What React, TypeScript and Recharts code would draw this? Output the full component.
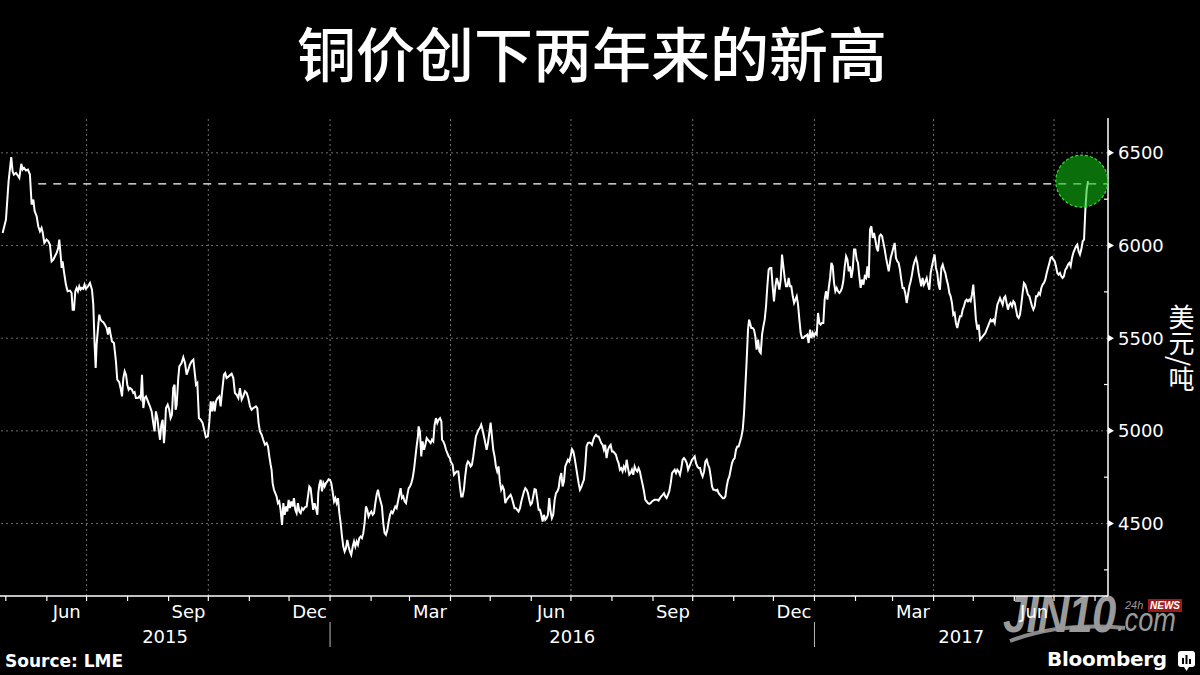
import React from 'react';
import { LineChart, Line, XAxis, YAxis, ReferenceLine, ReferenceDot } from 'recharts';

// Day index = calendar days since 2015-04-27; price in USD/tonne (LME copper)
const daysA = [1.6,4.1,6.1,8.1,9.1,10.1,11.7,13.4,14.2,15.7,16.7,17.7,19.2,20.7,22.2,23.5,24.8,25.8,27.3,28.5,29.8,31.0,31.8,33.1,34.8,36.1,37.3,38.6,39.9,41.1,42.4,43.6,44.4,45.4,46.2,46.9,47.9,49.4,50.7,52.5,53.7,54.5,55.5,56.5,57.5,58.5,59.5,60.5,61.5,62.5,63.5,64.5,66.1,67.6,69.1,70.1,71.1,71.9,72.6,73.9,74.6,75.6,76.6,77.6,78.9,80.2,81.2,82.2,83.2,84.2,85.7,87.2,88.2,89.7,90.7,91.8,92.8,93.8,94.8,95.8,96.8,97.8,99.3,100.3,101.3,102.3,103.8,104.9,105.9,106.9,107.9,108.9,109.9,110.9,111.9,112.9,114.2,115.4,116.4,117.4,118.5,119.5,120.5,121.5,122.5,123.5,124.2,125.0,126.3,127.5,128.5,129.5,130.5,131.5,132.3,133.1,134.3,135.1,136.8,138.1,139.4,140.6,141.9,143.1,144.4,145.7,146.9,147.7,148.7,149.9,151.2,152.7,154.2,155.2,156.7,157.8,158.8,159.8,160.8,161.8,162.8,164.0,165.3,166.3,167.3,168.8,169.8,170.8,172.4];
const pricesA = [6068,6140,6347,6477,6401,6383,6392,6374,6365,6441,6410,6419,6405,6410,6383,6221,6248,6185,6158,6104,6077,6095,6073,6014,6032,6023,6005,5915,5924,5942,5960,5987,6032,5951,5879,5915,5861,5789,5753,5757,5744,5654,5654,5753,5771,5753,5780,5762,5771,5766,5789,5767,5780,5798,5762,5681,5465,5339,5465,5573,5627,5600,5591,5587,5573,5555,5519,5559,5519,5483,5474,5375,5276,5263,5231,5186,5285,5321,5303,5249,5222,5231,5222,5204,5209,5177,5177,5186,5173,5303,5123,5177,5186,5168,5150,5132,5105,5042,4997,5105,5069,5006,4952,5033,5060,4934,4997,5123,5141,5114,5069,5087,5231,5249,5114,5141,5285,5348,5366,5397,5366,5303,5330,5357,5375,5384,5303,5249,5258,5069,5060,5042,4997,4965,4970,5051,5159,5105,5159,5105,5159,5177,5186,5132,5204,5303,5312,5285,5294];

const daysB = [174.6,175.9,177.1,178.4,179.7,180.9,182.2,183.4,184.7,186.0,187.2,188.5,189.7,191.0,193.0,194.0,195.0,196.0,197.3,198.5,199.8,201.1,202.1,203.1,204.1,204.8,205.6,206.6,207.6,208.6,209.6,210.6,211.6,212.7,213.7,214.7,215.7,216.7,217.7,218.7,219.7,220.7,221.7,222.7,223.7,224.7,225.8,226.8,227.8,228.8,230.0,231.3,232.3,233.3,234.3,235.3,236.3,237.3,238.3,239.4,240.1,240.9,241.9,242.9,243.9,244.9,245.9,246.9,247.9,248.9,249.9,250.9,252.0,253.0,254.0,255.0,256.0,257.0,258.0,259.0,260.0,261.0,262.0,263.0,264.0,265.0,266.1,267.1,268.1,269.1,270.1,271.1,272.1,273.1,274.1,275.1,276.1,277.1,278.1,279.2,280.2,281.2,282.2,283.2,284.2,285.2,286.2,287.2,288.2,289.2,290.2,291.2,292.3,293.3,294.3,295.3,296.3,297.3,298.3,299.3,300.3,301.3,302.3,303.3,304.3,305.4,306.4,307.4,308.4,309.4,310.4,311.4,312.4,313.4,314.4,315.4,315.9,316.9,317.9,318.9,320.0,321.0,322.0,323.0,324.0,325.0,326.0,327.0,328.0,329.0,330.0,331.0,332.1,333.1,333.6,334.6,335.6,336.6,337.6,338.6,339.6];
const pricesB = [5308,5285,5204,5195,5177,5231,5168,5186,5213,5204,5177,5132,5114,5123,5132,5123,5042,4997,4979,4952,4925,4934,4916,4862,4817,4790,4718,4682,4664,4646,4610,4619,4574,4493,4610,4547,4592,4565,4628,4583,4619,4592,4637,4574,4556,4610,4565,4556,4583,4574,4588,4592,4646,4700,4691,4628,4574,4610,4583,4547,4664,4709,4736,4673,4718,4700,4718,4727,4739,4736,4718,4673,4619,4637,4610,4637,4556,4502,4430,4376,4349,4367,4412,4376,4349,4331,4376,4403,4376,4403,4385,4421,4430,4421,4448,4502,4592,4574,4538,4556,4565,4547,4556,4610,4655,4682,4646,4619,4592,4502,4448,4439,4466,4511,4547,4565,4556,4574,4592,4583,4619,4655,4691,4637,4646,4619,4610,4655,4691,4700,4718,4745,4790,4853,4916,4970,5024,4997,4862,4943,4898,4925,4961,4952,4943,4934,4952,4943,5033,5069,5042,5060,5069,5051,4952,4943,4925,4898,4880,4862,4853];

const daysC = [340.1,341.6,342.6,343.6,344.6,345.9,347.1,348.1,349.1,350.1,351.1,352.2,353.2,354.2,355.2,356.2,357.2,358.2,359.2,360.2,361.2,362.2,363.2,364.2,365.3,366.3,367.3,368.3,369.3,370.3,371.3,372.3,373.3,374.3,375.3,376.3,377.3,378.3,379.4,380.4,381.4,382.4,383.4,384.4,385.4,386.4,387.4,388.4,389.4,390.4,391.4,392.5,393.5,394.5,395.5,396.5,397.5,398.5,399.5,400.5,401.5,402.5,403.5,404.5,405.6,406.6,407.6,408.6,409.6,410.6,411.6,412.6,413.6,414.6,415.6,416.6,417.6,418.7,419.7,420.7,421.7,422.7,423.7,424.7,425.7,426.7,427.7,428.7,429.7,430.7,431.8,432.8,433.8,434.8,435.8,436.8,437.8,438.8,439.8,440.8,441.8,442.8,443.8,444.9,445.9,446.9,447.9,448.9,449.9,450.9,451.9,452.9,453.9,454.9,455.9,456.9,457.9,459.0,460.0,461.0,462.0,463.0,464.0,465.0,466.0,467.0,468.0,469.0,470.0,471.0,472.1,473.1,474.1,475.1,476.1,477.1,478.1,479.1,480.1,481.1,482.1,483.1,484.1,485.2,486.2,487.2,488.2,489.2,490.2,491.2,492.2,493.2,494.2,495.2,496.2,497.2,498.3,499.3,500.3,501.3,502.3,503.3,504.3,505.3];
const pricesC = [4835,4817,4763,4772,4781,4781,4700,4646,4646,4682,4754,4817,4835,4826,4808,4817,4862,4916,4970,4988,5006,5015,5033,5006,4970,4934,4898,4934,4988,5045,4970,4898,4862,4808,4781,4808,4727,4682,4700,4682,4610,4628,4637,4646,4655,4637,4610,4583,4583,4574,4565,4583,4619,4646,4673,4691,4682,4664,4628,4601,4610,4646,4685,4682,4628,4574,4574,4547,4511,4547,4520,4529,4547,4637,4565,4529,4547,4628,4664,4673,4691,4745,4772,4700,4727,4808,4826,4844,4835,4862,4901,4889,4853,4808,4763,4718,4682,4696,4718,4736,4808,4916,4934,4937,4934,4925,4952,4970,4979,4970,4970,4952,4934,4925,4898,4925,4853,4898,4916,4925,4889,4889,4880,4871,4844,4826,4790,4799,4781,4808,4790,4844,4799,4763,4772,4790,4763,4808,4790,4781,4799,4781,4745,4709,4673,4628,4619,4610,4606,4610,4619,4624,4628,4628,4628,4624,4637,4646,4655,4664,4646,4637,4655,4673];

const daysD = [506.4,507.4,508.4,509.4,510.4,511.4,512.4,513.4,514.4,515.4,516.4,517.4,518.5,519.5,520.5,521.5,522.5,523.5,524.5,525.5,526.5,527.5,528.5,529.5,530.5,531.6,532.6,533.6,534.6,535.6,536.6,537.6,538.6,539.6,540.6,541.6,542.6,543.6,544.6,545.7,546.7,547.7,548.7,549.7,550.7,551.7,552.7,553.7,554.7,555.7,556.7,557.7,558.8,559.8,560.8,561.8,562.8,563.8,564.8,565.6,566.3,567.3,568.3,569.3,570.3,571.3,572.4,573.4,574.4,575.4,576.4,577.4,578.4,579.4,580.4,581.4,582.4,583.4,584.4,585.5,586.5,587.5,588.5,589.5,590.5,591.5,592.5,593.5,594.5,595.5,596.5,597.5,598.6,599.6,600.6,601.6,602.6,603.6,604.6,605.6,606.6,607.6,608.6,609.6,610.6,611.7,612.7,613.7,614.7,615.7,616.7,617.7,618.7,619.7,620.7,621.7,622.7,623.7,624.8,625.8,626.8,627.8,628.8,629.8,630.8,631.8,632.8,633.8,634.8,635.8,636.8,637.9,638.9,639.9,640.9,641.9,642.9,643.9,644.9,645.9,646.9,647.9,648.9,649.9,650.9,652.0,653.0,654.0,655.0,656.0,657.0,658.0,659.0,660.0,661.0,662.0,663.0,664.1,665.1,666.1,667.1,668.1,669.1,670.1,671.1];
const pricesD = [4718,4772,4781,4790,4772,4790,4781,4763,4799,4844,4853,4844,4826,4790,4808,4826,4844,4853,4862,4826,4808,4799,4799,4772,4754,4781,4835,4844,4817,4799,4754,4700,4682,4682,4678,4682,4664,4655,4646,4637,4637,4646,4700,4736,4754,4790,4826,4844,4853,4898,4916,4916,4943,4970,5006,5096,5240,5384,5546,5600,5582,5555,5555,5546,5510,5438,5492,5429,5420,5519,5564,5600,5672,5780,5870,5879,5879,5780,5699,5780,5825,5798,5762,5816,5951,5888,5825,5780,5780,5825,5780,5780,5726,5690,5708,5726,5681,5600,5528,5501,5501,5510,5513,5519,5474,5546,5501,5528,5510,5528,5519,5636,5582,5573,5582,5582,5708,5753,5708,5771,5825,5906,5888,5798,5753,5771,5753,5744,5753,5771,5807,5888,5942,5924,5861,5888,5825,5870,5978,5978,5924,5906,5834,5771,5816,5789,5834,5825,5888,5825,6086,6104,6041,6068,6032,5987,5969,6050,6059,6050,6014,5978,5933,5897,5861];

const daysE = [672.6,673.6,674.6,675.6,676.6,677.6,678.6,679.6,680.6,681.6,682.6,683.6,684.7,685.7,686.7,687.7,688.7,689.7,690.7,691.7,692.7,693.7,694.7,695.7,696.7,697.7,698.8,699.8,700.8,701.8,702.8,703.8,704.8,705.8,706.8,707.8,708.8,709.8,710.9,711.9,712.9,713.9,714.9,715.9,716.9,717.9,718.9,719.9,720.9,721.9,722.9,724.0,725.0,726.0,727.0,728.0,729.0,730.0,731.0,732.0,733.0,734.0,735.0,736.0,737.0,738.1,739.1,740.1,741.1,742.1,743.1,744.1,745.1,746.1,747.1,748.1,749.1,750.1,751.2,752.2,753.2,754.2,755.2,756.2,757.2,758.2,759.2,760.2,761.2,762.2,763.2,764.3,765.3,766.3,767.3,768.3,769.3,770.3,771.3,772.3,773.3,774.3,775.3,776.3,777.4,778.4,779.4,780.4,781.4,782.4,783.4,784.4,785.4,786.4,787.4,788.4,789.4,790.5,791.5,792.5,793.5,794.5,795.5,796.5,797.5,798.5,799.5,800.5,801.5,802.5,803.5,804.6,805.6,806.6,807.6,808.6,809.6,810.6,811.6,812.6,813.6,814.6,815.6,816.6,817.7,818.7,819.7,820.7,821.7];
const pricesE = [5933,5960,5987,6014,5933,5915,5906,5870,5816,5771,5771,5744,5690,5735,5780,5807,5843,5888,5915,5933,5906,5852,5816,5780,5825,5789,5807,5825,5789,5762,5852,5888,5924,5951,5879,5852,5789,5762,5879,5897,5870,5852,5816,5789,5744,5726,5690,5627,5636,5582,5555,5591,5618,5618,5654,5672,5699,5708,5699,5708,5699,5735,5789,5699,5600,5546,5573,5492,5501,5510,5519,5528,5546,5564,5582,5600,5591,5600,5582,5636,5681,5699,5717,5699,5681,5717,5726,5690,5654,5681,5690,5672,5699,5690,5654,5618,5609,5627,5681,5744,5798,5789,5762,5735,5726,5699,5672,5654,5672,5726,5726,5744,5735,5771,5789,5798,5816,5852,5879,5906,5933,5938,5924,5915,5888,5852,5843,5852,5834,5825,5834,5870,5879,5897,5906,5888,5933,5960,5978,5996,6005,5969,5951,5978,6023,6032,6194,6302,6347];

// Axis / annotation values
const monthStartDays = [4,35,65,96,127,157,188,218,249,280,309,340,370,401,431,462,493,523,554,584,615,646,674,705,735,766,796,827];
const monthLabelDays = [50,142,233.5,324.5,416,508,599.5,689.5,781];
const monthLabels = ['Jun','Sep','Dec','Mar','Jun','Sep','Dec','Mar','Jun'];
const quarterStartDays = [65,157,249,340,431,523,615,705,796];
const yearLabelDays = [124.3,432,725.9];
const yearLabels = ['2015','2016','2017'];
const yearBreakDays = [249,615];
const yMajorTicks = [4500,5000,5500,6000,6500];
const yMinorTicks = [4250,4750,5250,5750,6250];
const xDomain: [number, number] = [-0.4, 836.8];
const yDomain: [number, number] = [4109, 6688];
const highLevel = 6333;
const highLineStartDay = 28.5;
const highlightDay = 817;

const days = [...daysA, ...daysB, ...daysC, ...daysD, ...daysE];
const prices = [...pricesA, ...pricesB, ...pricesC, ...pricesD, ...pricesE];
const data = days.map((d, i) => ({ day: d, price: prices[i] })).filter((r) => r.price !== undefined);
const lastPrice = prices[prices.length - 1];

const xTicks = Array.from(new Set([...monthStartDays, ...monthLabelDays, ...yearLabelDays])).sort((a, b) => a - b);
const yTicks = [...yMinorTicks, ...yMajorTicks].sort((a, b) => a - b);

const FONT = 'DejaVu Sans, Verdana, sans-serif';

const XTick = (props: any) => {
  const { x, y, payload } = props;
  const v = payload.value;
  const els: any[] = [];
  if (monthStartDays.includes(v)) {
    els.push(<line key="t" x1={x} x2={x} y1={y} y2={y + 5} stroke="#fff" strokeWidth={1.2} />);
  }
  const mi = monthLabelDays.indexOf(v);
  if (mi >= 0) {
    els.push(
      <text key="m" x={x} y={y + 22} textAnchor="middle" fill="#fff" fontSize={18} fontFamily={FONT}>
        {monthLabels[mi]}
      </text>
    );
  }
  const yi = yearLabelDays.indexOf(v);
  if (yi >= 0) {
    els.push(
      <text key="y" x={x} y={y + 47} textAnchor="middle" fill="#fff" fontSize={18} fontFamily={FONT}>
        {yearLabels[yi]}
      </text>
    );
  }
  if (yearBreakDays.includes(v)) {
    els.push(<line key="b" x1={x} x2={x} y1={y + 26} y2={y + 51} stroke="#bbb" strokeWidth={1} />);
  }
  return <g>{els}</g>;
};

const YTick = (props: any) => {
  const { x, y, payload } = props;
  const v = payload.value;
  if (yMajorTicks.includes(v)) {
    return (
      <g>
        <polygon points={`${x},${y - 3.5} ${x + 6},${y} ${x},${y + 3.5}`} fill="#fff" />
        <text x={x + 10} y={y} dy="0.36em" textAnchor="start" fill="#fff" fontSize={18} fontFamily={FONT}>
          {v}
        </text>
      </g>
    );
  }
  return <line x1={x - 4} x2={x} y1={y} y2={y} stroke="#fff" strokeWidth={1.2} />;
};

export default function App() {
  return (
    <div style={{ position: 'relative', width: 1200, height: 675, background: '#000', overflow: 'hidden' }}>
      <style>{'body{margin:0;background:#000;}'}</style>

      {/* watermark */}
      <div style={{ position: 'absolute', left: 0, top: 0, width: 1200, height: 675 }}>
        <svg width={1200} height={675} style={{ position: 'absolute', left: 0, top: 0 }}>
          <path d="M1010,641 Q1060,622 1125,628" stroke="#8a8a8a" strokeWidth={4} fill="none" />
        </svg>
        <div style={{ position: 'absolute', left: 1003, top: 588, fontFamily: 'Liberation Sans, Arial, sans-serif', fontStyle: 'italic', fontWeight: 700, fontSize: 52, color: '#9a9a9a', transform: 'scaleX(0.84)', transformOrigin: 'left top', lineHeight: '52px', letterSpacing: -1 }}>JIN10</div>
        <div style={{ position: 'absolute', left: 1117, top: 602, fontFamily: 'Liberation Sans, Arial, sans-serif', fontStyle: 'italic', fontSize: 34, color: '#9a9a9a', transform: 'scaleX(0.8)', transformOrigin: 'left top', lineHeight: '34px' }}>.com</div>
        <div style={{ position: 'absolute', left: 1125, top: 599, fontFamily: 'Liberation Sans, Arial, sans-serif', fontStyle: 'italic', fontSize: 11, color: '#9a9a9a', lineHeight: '13px' }}>24h</div>
        <div style={{ position: 'absolute', left: 1148, top: 599, fontFamily: 'Liberation Sans, Arial, sans-serif', fontStyle: 'italic', fontWeight: 700, fontSize: 10, color: '#fff', background: '#9b1b1b', padding: '0 2px', lineHeight: '13px' }}>NEWS</div>
      </div>

      <div style={{ position: 'absolute', left: 0, top: 0 }}>
        <LineChart width={1200} height={675} data={data} margin={{ top: 118, right: 0, bottom: 0, left: 0 }}>
          <XAxis
            dataKey="day"
            type="number"
            domain={xDomain}
            allowDataOverflow
            ticks={xTicks}
            interval={0}
            tick={(p: any) => <XTick {...p} />}
            tickLine={false}
            tickSize={0}
            tickMargin={0}
            axisLine={{ stroke: '#fff', strokeWidth: 1.5 }}
            height={79}
          />
          <YAxis
            orientation="right"
            type="number"
            domain={yDomain}
            allowDataOverflow
            ticks={yTicks}
            interval={0}
            tick={(p: any) => <YTick {...p} />}
            tickLine={false}
            tickSize={0}
            tickMargin={0}
            axisLine={{ stroke: '#fff', strokeWidth: 1.5 }}
            width={92}
          />
          {yMajorTicks.map((v) => (
            <ReferenceLine key={'h' + v} y={v} stroke="#6e6e6e" strokeDasharray="2 3" strokeWidth={1} />
          ))}
          {quarterStartDays.map((d) => (
            <ReferenceLine key={'v' + d} x={d} stroke="#6e6e6e" strokeDasharray="2 3" strokeWidth={1} />
          ))}
          <ReferenceLine
            segment={[{ x: highLineStartDay, y: highLevel }, { x: xDomain[1], y: highLevel }]}
            stroke="#fff"
            strokeWidth={1.3}
            strokeDasharray="8 7"
          />
          <Line
            type="linear"
            dataKey="price"
            stroke="#fff"
            strokeWidth={2}
            dot={false}
            isAnimationActive={false}
          />
          <ReferenceDot
            x={highlightDay}
            y={lastPrice}
            r={26}
            fill="#12c112"
            fillOpacity={0.57}
            stroke="#2de02d"
            strokeWidth={1.2}
            strokeDasharray="3 2"
          />
        </LineChart>
      </div>

      {/* title */}
      <div style={{ position: 'absolute', left: 0, top: 22, width: 1184, textAlign: 'center', color: '#fff', fontFamily: '"Noto Sans CJK SC", sans-serif', fontWeight: 500, fontSize: 59, lineHeight: '59px' }}>
        铜价创下两年来的新高
      </div>

      {/* y axis label */}
      <div style={{ position: 'absolute', left: 1167, top: 304, writingMode: 'vertical-rl', color: '#fff', fontFamily: '"Noto Sans CJK SC", sans-serif', fontSize: 26, lineHeight: '28px' }}>
        美元/吨
      </div>

      {/* source */}
      <div style={{ position: 'absolute', left: 5, top: 653, color: '#fff', fontFamily: FONT, fontWeight: 700, fontSize: 17, lineHeight: '17px' }}>
        Source: LME
      </div>

      {/* Bloomberg mark */}
      <div style={{ position: 'absolute', left: 1047, top: 649, color: '#fff', fontFamily: FONT, fontWeight: 700, fontSize: 20, lineHeight: '20px', letterSpacing: -0.3 }}>
        Bloomberg
      </div>
      <svg width={20} height={22} style={{ position: 'absolute', left: 1177, top: 650 }}>
        <rect x={1} y={1} width={17} height={16} rx={3} fill="#fff" />
        <polygon points="7,17 12,17 9.5,21" fill="#fff" />
        <rect x={5} y={8} width={2} height={6} fill="#000" />
        <rect x={8.5} y={5} width={2} height={9} fill="#000" />
        <rect x={12} y={9} width={2} height={5} fill="#000" />
      </svg>
    </div>
  );
}
